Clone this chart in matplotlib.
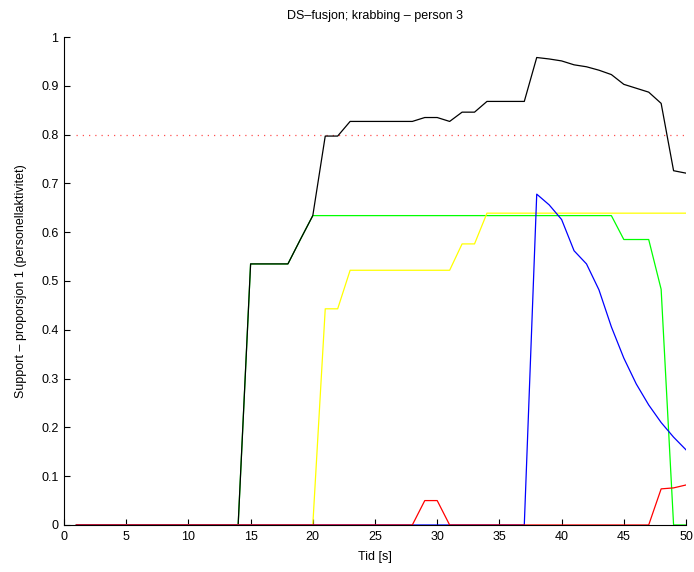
import numpy as np
import matplotlib
matplotlib.use("Agg")
from matplotlib import pyplot as plt

plt.rcParams['font.family'] = ['Liberation Sans', 'DejaVu Sans']

# time steps [s]
tid = list(range(1, 51))

# combined support (black)
total = [0.0] * 14 + [0.535, 0.535, 0.535, 0.535, 0.585, 0.634,
                      0.797, 0.797, 0.827, 0.827, 0.827, 0.827, 0.827, 0.827,
                      0.835, 0.835, 0.827, 0.846, 0.846, 0.868, 0.868, 0.868, 0.868,
                      0.958, 0.955, 0.951, 0.943, 0.939, 0.932, 0.923, 0.903,
                      0.895, 0.887, 0.864, 0.726, 0.721]
# individual sources
green = [0.0] * 14 + [0.535, 0.535, 0.535, 0.535, 0.585] + [0.634] * 25 + \
        [0.585, 0.585, 0.585, 0.483, 0.0, 0.0]
yellow = [0.0] * 20 + [0.443, 0.443] + [0.522] * 9 + [0.576, 0.576] + [0.639] * 17
blue = [0.0] * 37 + [0.678, 0.656, 0.626, 0.562, 0.535, 0.482, 0.406, 0.342,
                     0.289, 0.246, 0.21, 0.18, 0.154]
red = [0.0] * 28 + [0.05, 0.05] + [0.0] * 17 + [0.074, 0.076, 0.082]

terskel = 0.8

fig = plt.figure(figsize=(6.94, 5.72), dpi=100)
ax = fig.add_axes([0.0922, 0.0822, 0.8963, 0.8531])

lw = 0.9
ax.plot(tid, [terskel] * len(tid), color='#ff5050', linestyle=(0, (1, 4)), lw=0.9)
ax.plot(tid, green, color='#00ff00', lw=lw)
ax.plot(tid, total, color='black', lw=lw)
ax.plot(tid, yellow, color='#ffff00', lw=lw)
ax.plot(tid, blue, color='#0000ff', lw=lw)
ax.plot(tid, red, color='#ff0000', lw=lw)

ax.set_xlim(0, 50)
ax.set_ylim(0, 1)
ax.set_xticks(np.arange(0, 51, 5))
ax.set_yticks(np.round(np.arange(0, 1.01, 0.1), 1))
ax.set_yticklabels(['0', '0.1', '0.2', '0.3', '0.4', '0.5', '0.6', '0.7', '0.8', '0.9', '1'])
ax.spines['top'].set_visible(False)
ax.spines['right'].set_visible(False)
ax.spines['left'].set_linewidth(0.8)
ax.spines['bottom'].set_linewidth(0.8)
ax.tick_params(direction='in', length=4, width=0.8, labelsize=9, pad=4)

ax.set_title('DS\u2013fusjon; krabbing \u2013 person 3', fontsize=9, pad=13)
ax.set_xlabel('Tid [s]', fontsize=9, labelpad=6)
ax.set_ylabel('Support \u2013 proporsjon 1 (personellaktivitet)', fontsize=9, labelpad=10)

plt.savefig('out.png', dpi=100)
plt.close()
